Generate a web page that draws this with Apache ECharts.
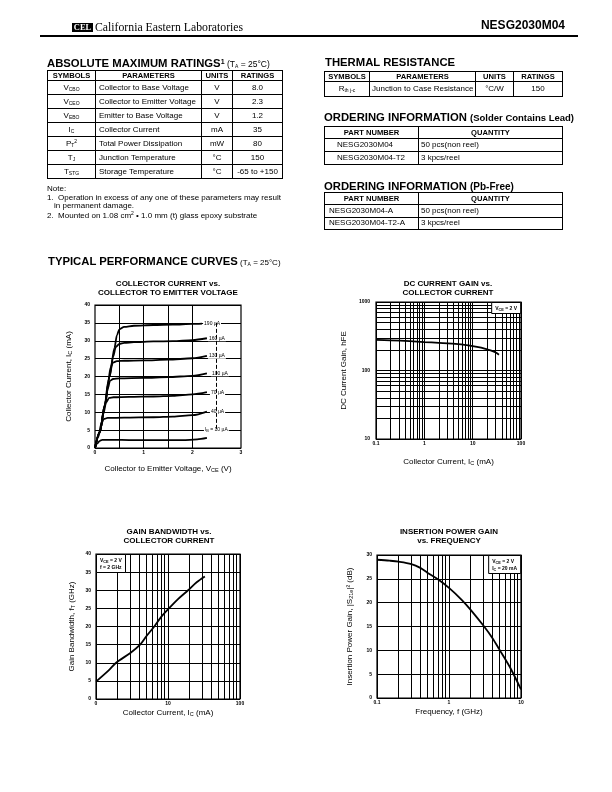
<!DOCTYPE html>
<html>
<head>
<meta charset="utf-8">
<title>NESG2030M04</title>
<script src="https://cdn.jsdelivr.net/npm/echarts@6.0.0/dist/echarts.min.js"></script>
<style>
  body { margin: 0; background: #fff; }
  #page { position: relative; width: 612px; height: 792px; overflow: hidden;
    font-family: Arial, 'Liberation Sans', Helvetica, sans-serif; color: #000; }
  .t { position: absolute; white-space: nowrap; line-height: 1; }
  .head { font-weight: bold; font-size: 11.3px; }
  .note { font-size: 8px; }
  table { position: absolute; border-collapse: collapse; table-layout: fixed; font-size: 8px; }
  td { border: 1px solid #000; padding: 0 3px; white-space: nowrap; overflow: hidden; line-height: 1; }
  th { border: 1px solid #000; font-weight: bold; font-size: 7.6px; padding: 0; line-height: 1; white-space: nowrap; }
  .c { text-align: center; }
  sub { font-size: 5px; vertical-align: -1px; line-height: 0; }
  sup { font-size: 5px; vertical-align: 3px; line-height: 0; }
  #chart { position: absolute; left: 0; top: 0; width: 612px; height: 792px; }
</style>
</head>
<body>
<div id="page">
  <div id="chart"></div>

  <!-- header -->
  <div class="t" style="left:72px;top:23px;width:21px;height:8.5px;background:#000;color:#fff;font:bold 8.5px 'Liberation Serif',serif;text-align:center;line-height:8.5px;">CEL</div>
  <div class="t" style="left:95px;top:21px;font-family:'Liberation Serif',serif;font-size:12.5px;transform:scaleX(0.94);transform-origin:0 0;">California Eastern Laboratories</div>
  <div class="t" style="right:47px;top:19px;font-weight:bold;font-size:12px;">NESG2030M04</div>
  <div style="position:absolute;left:40px;top:35px;width:538px;height:1.5px;background:#000;"></div>

  <!-- absolute maximum ratings -->
  <div class="t head" style="left:47px;top:58px;">ABSOLUTE MAXIMUM RATINGS<span style="font-size:7px;vertical-align:3px;">1</span><span style="font-weight:normal;font-size:8.5px;"> (T<sub>A</sub> = 25°C)</span></div>
  <table style="left:47px;top:70px;width:235px;">
    <colgroup><col style="width:48px"><col style="width:106px"><col style="width:31px"><col style="width:50px"></colgroup>
    <tr style="height:10px"><th>SYMBOLS</th><th>PARAMETERS</th><th>UNITS</th><th>RATINGS</th></tr>
    <tr style="height:14px"><td class="c">V<sub>CBO</sub></td><td>Collector to Base Voltage</td><td class="c">V</td><td class="c">8.0</td></tr>
    <tr style="height:14px"><td class="c">V<sub>CEO</sub></td><td>Collector to Emitter Voltage</td><td class="c">V</td><td class="c">2.3</td></tr>
    <tr style="height:14px"><td class="c">V<sub>EBO</sub></td><td>Emitter to Base Voltage</td><td class="c">V</td><td class="c">1.2</td></tr>
    <tr style="height:14px"><td class="c">I<sub>C</sub></td><td>Collector Current</td><td class="c">mA</td><td class="c">35</td></tr>
    <tr style="height:14px"><td class="c">P<sub>T</sub><sup>2</sup></td><td>Total Power Dissipation</td><td class="c">mW</td><td class="c">80</td></tr>
    <tr style="height:14px"><td class="c">T<sub>J</sub></td><td>Junction Temperature</td><td class="c">°C</td><td class="c">150</td></tr>
    <tr style="height:14px"><td class="c">T<sub>STG</sub></td><td>Storage Temperature</td><td class="c">°C</td><td class="c">-65 to +150</td></tr>
  </table>
  <div class="t note" style="left:47px;top:185px;">Note:</div>
  <div class="t note" style="left:47px;top:193.5px;">1.&nbsp; Operation in excess of any one of these parameters may result</div>
  <div class="t note" style="left:54px;top:202px;">in permanent damage.</div>
  <div class="t note" style="left:47px;top:211.5px;">2.&nbsp; Mounted on 1.08 cm<sup>2</sup> • 1.0 mm (t) glass epoxy substrate</div>

  <!-- thermal resistance -->
  <div class="t head" style="left:325px;top:57px;">THERMAL RESISTANCE</div>
  <table style="left:324px;top:71px;width:238px;">
    <colgroup><col style="width:45px"><col style="width:106px"><col style="width:38px"><col style="width:49px"></colgroup>
    <tr style="height:10px"><th>SYMBOLS</th><th>PARAMETERS</th><th>UNITS</th><th>RATINGS</th></tr>
    <tr style="height:15px"><td class="c">R<sub>th j-c</sub></td><td style="padding-left:2px">Junction to Case Resistance</td><td class="c">°C/W</td><td class="c">150</td></tr>
  </table>

  <!-- ordering information -->
  <div class="t head" style="left:324px;top:112px;">ORDERING INFORMATION <span style="font-size:9.5px;">(Solder Contains Lead)</span></div>
  <table style="left:324px;top:126px;width:238px;">
    <colgroup><col style="width:94px"><col style="width:144px"></colgroup>
    <tr style="height:12px"><th>PART NUMBER</th><th>QUANTITY</th></tr>
    <tr style="height:13px"><td style="padding-left:12px">NESG2030M04</td><td style="padding-left:2px">50 pcs(non reel)</td></tr>
    <tr style="height:13px"><td style="padding-left:12px">NESG2030M04-T2</td><td style="padding-left:2px">3 kpcs/reel</td></tr>
  </table>

  <div class="t head" style="left:324px;top:181px;">ORDERING INFORMATION <span style="font-size:10px;">(Pb-Free)</span></div>
  <table style="left:324px;top:192px;width:238px;">
    <colgroup><col style="width:94px"><col style="width:144px"></colgroup>
    <tr style="height:12px"><th>PART NUMBER</th><th>QUANTITY</th></tr>
    <tr style="height:12.5px"><td style="padding-left:4px">NESG2030M04-A</td><td style="padding-left:2px">50 pcs(non reel)</td></tr>
    <tr style="height:12.5px"><td style="padding-left:4px">NESG2030M04-T2-A</td><td style="padding-left:2px">3 kpcs/reel</td></tr>
  </table>

  <div class="t head" style="left:48px;top:256px;">TYPICAL PERFORMANCE CURVES<span style="font-weight:normal;font-size:8px;"> (T<sub>A</sub> = 25°C)</span></div>
</div>

<script>
// ---- collector current vs VCE, [VCE (V), IC (mA)] per base current ----
const ic190 = [[0, 0], [0.1, 4.5], [0.2, 12], [0.3, 20], [0.4, 28], [0.45, 31.5], [0.5, 33.2], [0.6, 33.9], [0.8, 34.2], [1.2, 34.4], [1.6, 34.5], [2.0, 34.7], [2.2, 34.8]];
const ic160 = [[0, 0], [0.1, 4.5], [0.2, 12], [0.3, 20], [0.37, 25.5], [0.43, 28.3], [0.5, 29.1], [0.6, 29.4], [0.8, 29.6], [1.2, 29.8], [1.6, 29.9], [2.0, 30.2], [2.3, 30.7]];
const ic130 = [[0, 0], [0.1, 4.5], [0.2, 12], [0.27, 18.5], [0.32, 22.5], [0.37, 23.9], [0.45, 24.3], [0.6, 24.4], [1.0, 24.5], [1.5, 24.7], [2.0, 25.1], [2.3, 25.8]];
const ic100 = [[0, 0], [0.1, 4.5], [0.2, 11.5], [0.26, 16.5], [0.31, 18.8], [0.37, 19.3], [0.5, 19.5], [1.0, 19.6], [1.5, 19.8], [2.0, 20.2], [2.3, 20.9]];
const ic70 = [[0, 0], [0.1, 4.3], [0.17, 9.5], [0.23, 12.8], [0.29, 14], [0.38, 14.2], [0.7, 14.3], [1.2, 14.4], [1.6, 14.6], [2.0, 15.0], [2.3, 15.6]];
const ic40 = [[0, 0], [0.07, 3.2], [0.13, 6.8], [0.18, 8.1], [0.26, 8.4], [0.6, 8.5], [1.2, 8.6], [1.6, 8.8], [2.0, 9.2], [2.3, 10.2]];
const ic10 = [[0, 0], [0.05, 1.3], [0.1, 2.0], [0.15, 2.3], [0.3, 2.3], [0.8, 2.2], [1.2, 2.2], [1.8, 2.2], [2.1, 2.4], [2.3, 2.8]];
const ibCurves = [ic190, ic160, ic130, ic100, ic70, ic40, ic10];
const ibLabels = ['190 µA', '160 µA', '130 µA', '100 µA', '70 µA', '40 µA', '{n|I}{s|B}{n| = 10 µA}'];
const vceTickLabels = ['0', '', '1', '', '2', '', '3'];
const vceGridLines = [0.5, 1, 1.5, 2];

// ---- DC current gain vs collector current ----
const hfeIc = [0.1, 0.2, 0.5, 1, 2, 5, 10, 15, 20, 25, 30, 35];
const hfe = [280, 276, 268, 260, 253, 242, 227, 215, 203, 194, 183, 170];
const hfeXTicks = ['0.1', '1', '10', '100'];
const hfeYTicks = ['10', '100', '1000'];

// ---- gain bandwidth vs collector current ----
const ftIc = [1, 1.5, 1.9, 3, 4.1, 5, 6.45, 8, 10.3, 14, 19, 25, 32.5];
const ft = [4.8, 7.9, 10, 12.7, 15, 17.3, 20, 22.6, 25, 27.7, 30, 32.2, 33.8];
const ftXTicks = ['0', '10', '100'];

// ---- insertion power gain vs frequency ----
const freq = [0.1, 0.15, 0.2, 0.3, 0.4, 0.5, 0.7, 1, 1.5, 2, 3, 4, 5, 7, 10];
const s21 = [29, 28.8, 28.6, 28.1, 27.3, 26.3, 24.9, 23.1, 20.6, 18.5, 15.2, 12.6, 10.2, 6.5, 1.8];
const freqTicks = ['0.1', '1', '10'];

const minorSteps = [2, 3, 4, 5, 6, 7, 8, 9];

const FONT = 'Arial, "Liberation Sans", sans-serif';
const nameRich = {
  n: { fontSize: 8, fontFamily: FONT, color: '#000' },
  s: { fontSize: 5.5, fontFamily: FONT, color: '#000', verticalAlign: 'bottom' }
};
const boxRich = {
  n: { fontSize: 5, fontFamily: FONT, color: '#000', lineHeight: 7 },
  s: { fontSize: 3.8, fontFamily: FONT, color: '#000', verticalAlign: 'bottom', lineHeight: 7 }
};
const tickStyle = { fontSize: 5, fontWeight: 'bold', color: '#000', fontFamily: FONT };

function minorLines(lo, hi) {
  let out = [];
  for (let d = lo; d < hi * 0.999; d *= 10) {
    minorSteps.forEach(s => out.push(+(s * d).toPrecision(3)));
  }
  return out;
}

function gridSeries(idx, xs, ys, extra) {
  let data = xs.map(v => ({ xAxis: v })).concat(ys.map(v => ({ yAxis: v })));
  if (extra) data = data.concat(extra);
  return {
    type: 'line', xAxisIndex: idx, yAxisIndex: idx, data: [], z: 1, silent: true,
    markLine: {
      symbol: ['none', 'none'], silent: true, animation: false,
      label: { show: false },
      lineStyle: { color: '#000', width: 1, type: 'solid' },
      data: data
    }
  };
}

function curve(idx, data, extra) {
  return Object.assign({
    type: 'line', xAxisIndex: idx, yAxisIndex: idx, data: data, z: 3,
    showSymbol: false, smooth: 0.3,
    lineStyle: { color: '#000', width: 1.8 }
  }, extra || {});
}

function chartTitle(text, x, y) {
  return {
    text: text, left: x, top: y, textAlign: 'center', padding: 0,
    textStyle: { fontSize: 8, fontWeight: 'bold', lineHeight: 9, fontFamily: FONT, color: '#000' }
  };
}

function noteBox(text, pos) {
  return Object.assign({
    text: text, padding: [3, 4, 2, 4], backgroundColor: '#fff',
    borderColor: '#000', borderWidth: 1,
    textStyle: { fontSize: 5, fontFamily: FONT, color: '#000', lineHeight: 7, rich: boxRich }
  }, pos);
}

function linAxis(idx, min, max, interval, name, gap, labels) {
  return {
    type: 'value', gridIndex: idx, min: min, max: max, interval: interval,
    name: name, nameLocation: 'middle', nameGap: gap,
    nameTextStyle: { fontSize: 8, fontFamily: FONT, color: '#000', rich: nameRich },
    axisLine: { show: false }, axisTick: { show: false },
    splitLine: { show: true, lineStyle: { color: '#000', width: 1 } },
    axisLabel: Object.assign({ margin: 5 }, tickStyle, labels || {})
  };
}

function logAxis(idx, min, max, name, gap, ticks, margin) {
  return {
    type: 'log', logBase: 10, gridIndex: idx, min: min, max: max,
    name: name, nameLocation: 'middle', nameGap: gap,
    nameTextStyle: { fontSize: 8, fontFamily: FONT, color: '#000', rich: nameRich },
    axisLine: { show: false }, axisTick: { show: false },
    splitLine: { show: true, lineStyle: { color: '#000', width: 1 } },
    axisLabel: Object.assign({ margin: margin, showMinLabel: true, showMaxLabel: true,
      formatter: (v, i) => ticks[i] }, tickStyle)
  };
}

const chart = echarts.init(document.getElementById('chart'));

const ibSeries = ibCurves.map((d, i) => curve(0, d, {
  smooth: 0.3, smoothMonotone: 'x',
  endLabel: {
    show: true, formatter: ibLabels[i], distance: 1,
    offset: [[0, 0], [0, 0], [0, 0], [3, 0], [2, 0], [2, 0], [-4, -8]][i],
    fontSize: 5, fontFamily: FONT, color: '#000', backgroundColor: '#fff', padding: [0.5, 1],
    rich: { n: { fontSize: 5, fontFamily: FONT }, s: { fontSize: 3.8, fontFamily: FONT, verticalAlign: 'bottom' } }
  }
}));

const option = {
  animation: false,
  title: [
    chartTitle('COLLECTOR CURRENT vs.\nCOLLECTOR TO EMITTER VOLTAGE', 168, 279),
    chartTitle('DC CURRENT GAIN vs.\nCOLLECTOR CURRENT', 448, 279),
    chartTitle('GAIN BANDWIDTH vs.\nCOLLECTOR CURRENT', 169, 527),
    chartTitle('INSERTION POWER GAIN\nvs. FREQUENCY', 449, 527),
    noteBox('{n|V}{s|CE}{n| = 2 V}', { right: 91, top: 302 }),
    noteBox('{n|V}{s|CE}{n| = 2 V}\n{n|f = 2 GHz}', { left: 96, top: 554 }),
    noteBox('{n|V}{s|CE}{n| = 2 V}\n{n|I}{s|C}{n| = 20 mA}', { right: 91, top: 555 })
  ],
  grid: [
    { left: 95, top: 305, width: 146, height: 143 },
    { left: 376, top: 302, width: 145, height: 137 },
    { left: 96, top: 554, width: 144, height: 145 },
    { left: 377, top: 555, width: 144, height: 143 }
  ].map(g => Object.assign({ show: true, borderColor: '#000', borderWidth: 1.2 }, g)),
  xAxis: [
    Object.assign(linAxis(0, 0, 3, 0.5, '{n|Collector to Emitter Voltage, V}{s|CE}{n| (V)}', 17,
      { margin: 2, formatter: (v, i) => vceTickLabels[i] }), { splitLine: { show: false } }),
    logAxis(1, 0.1, 100, '{n|Collector Current, I}{s|C}{n| (mA)}', 19, hfeXTicks, 2),
    logAxis(2, 1, 100, '{n|Collector Current, I}{s|C}{n| (mA)}', 10, ftXTicks, 2.5),
    logAxis(3, 0.1, 10, '{n|Frequency, f (GHz)}', 10, freqTicks, 2.5)
  ],
  yAxis: [
    linAxis(0, 0, 40, 5, '{n|Collector Current, I}{s|C}{n| (mA)}', 22),
    logAxis(1, 10, 1000, '{n|DC Current Gain, hFE}', 28, hfeYTicks, 6),
    linAxis(2, 0, 40, 5, '{n|Gain Bandwidth, f}{s|T}{n| (GHz)}', 20),
    linAxis(3, 0, 30, 5, '{n|Insertion Power Gain, |S}{s|21e}{n||² (dB)}', 23)
  ],
  series: [
    gridSeries(0, vceGridLines, [], [[
      { coord: [2.5, 35], lineStyle: { type: [4, 2] } }, { coord: [2.5, 5] }
    ]]),
    gridSeries(1, minorLines(0.1, 100), minorLines(10, 1000)),
    gridSeries(2, minorLines(1, 100), []),
    gridSeries(3, minorLines(0.1, 10), []),
    ...ibSeries,
    curve(1, hfeIc.map((v, i) => [v, hfe[i]])),
    curve(2, ftIc.map((v, i) => [v, ft[i]])),
    curve(3, freq.map((v, i) => [v, s21[i]]))
  ]
};
chart.setOption(option);
</script>
</body>
</html>
